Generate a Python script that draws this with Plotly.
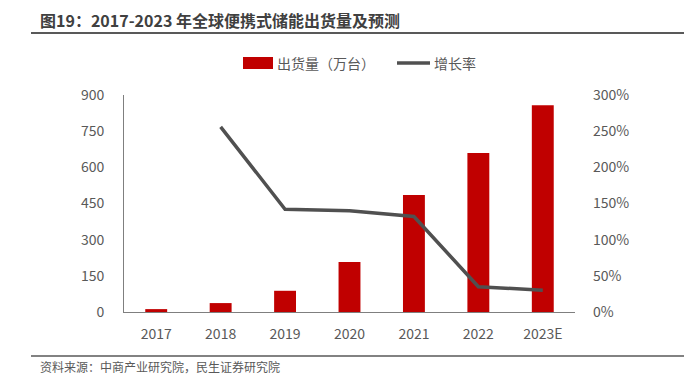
import plotly.graph_objects as go

categories = ["2017", "2018", "2019", "2020", "2021", "2022", "2023E"]
shipments = [12, 37, 88, 207, 485, 659, 858]
growth = [None, 256, 142, 140, 132, 35, 30]
left_ticks = [0, 150, 300, 450, 600, 750, 900]
right_ticks = [0, 50, 100, 150, 200, 250, 300]
right_tick_labels = [f"{v}%" for v in right_ticks]

FONT = "Noto Sans CJK SC"
TXT = "#595959"

# page body has an 8px default margin; figure is drawn from (8, 8)
OFF = 8
W, H = 692 - OFF, 376 - OFF
PL, PR, PT, PB = 124, 575, 95, 312  # target plot area in page pixels
PW, PH = PR - PL, PB - PT


def px(x):
    return (x - PL) / PW


def py(y):
    return (PB - y) / PH


fig = go.Figure()
fig.add_trace(go.Bar(x=categories, y=shipments, name="出货量（万台）",
                     marker=dict(color="#C00000", line=dict(width=0)), yaxis="y"))
fig.add_trace(go.Scatter(x=categories, y=growth, name="增长率", mode="lines",
                         line=dict(color="#505050", width=3.5), yaxis="y2"))

fig.update_layout(
    width=W, height=H,
    margin=dict(l=PL - OFF, r=692 - PR, t=PT - OFF, b=376 - PB, pad=0),
    paper_bgcolor="white", plot_bgcolor="white",
    font=dict(family=FONT, color=TXT, size=14),
    bargap=0.66,
    showlegend=False,
    xaxis=dict(type="category", showgrid=False, showline=True, linecolor="#7f7f7f",
               linewidth=1, ticks="", ticklabelstandoff=9,
               tickfont=dict(size=14, color=TXT)),
    yaxis=dict(range=[0, 900], tickvals=left_ticks, showgrid=False, showline=True,
               linecolor="#7f7f7f", linewidth=1, ticks="", zeroline=False,
               ticklabelstandoff=16, tickfont=dict(size=14, color=TXT)),
    yaxis2=dict(range=[0, 300], tickvals=right_ticks, ticktext=right_tick_labels,
                overlaying="y", side="right", showgrid=False, showline=False,
                zeroline=False, ticks="", ticklabelstandoff=17,
                tickfont=dict(size=14, color=TXT)),
    annotations=[
        dict(text="<b>图19：2017-2023 年全球便携式储能出货量及预测</b>", xref="paper", yref="paper",
             x=px(38), y=py(20), xanchor="left", yanchor="middle",
             showarrow=False, font=dict(size=16, color="#404040", family=FONT)),
        dict(text="资料来源：中商产业研究院，民生证券研究院", xref="paper", yref="paper",
             x=px(38), y=py(366), xanchor="left", yanchor="middle",
             showarrow=False, font=dict(size=12, color=TXT, family=FONT)),
        dict(text="出货量（万台）", xref="paper", yref="paper",
             x=px(275), y=py(63), xanchor="left", yanchor="middle",
             showarrow=False, font=dict(size=14, color=TXT, family=FONT)),
        dict(text="增长率", xref="paper", yref="paper",
             x=px(432), y=py(63), xanchor="left", yanchor="middle",
             showarrow=False, font=dict(size=14, color=TXT, family=FONT)),
    ],
    shapes=[
        dict(type="line", xref="paper", yref="paper", x0=px(31), x1=px(700),
             y0=py(33), y1=py(33), line=dict(color="#595959", width=2)),
        dict(type="line", xref="paper", yref="paper", x0=px(31), x1=px(700),
             y0=py(356), y1=py(356), line=dict(color="#595959", width=1.5)),
        dict(type="rect", xref="paper", yref="paper", x0=px(243), x1=px(273),
             y0=py(57), y1=py(69), fillcolor="#C00000", line=dict(width=0)),
        dict(type="line", xref="paper", yref="paper", x0=px(397), x1=px(430),
             y0=py(63), y1=py(63), line=dict(color="#505050", width=3.5)),
    ],
)

fig.write_html("out.html")
